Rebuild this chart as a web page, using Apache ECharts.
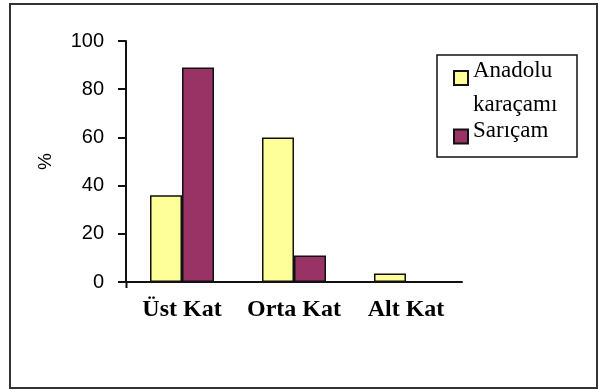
<!DOCTYPE html>
<html>
<head>
<meta charset="utf-8">
<script src="https://cdn.jsdelivr.net/npm/echarts@6/dist/echarts.min.js"></script>
<style>
  html, body { margin: 0; padding: 0; background: #fff; }
  #chart { width: 599px; height: 390px; }
</style>
</head>
<body>
<div id="chart"></div>
<script>
// Canopy layers and share (%) of each pine species
const categories = ['Üst Kat', 'Orta Kat', 'Alt Kat'];
const seriesNames = ['Anadolu karaçamı', 'Sarıçam'];
const karacam = [36, 60, 3.5];
const saricam = [89, 11, 0];
const yTicks = [0, 20, 40, 60, 80, 100];

const chart = echarts.init(document.getElementById('chart'), null, { renderer: 'canvas' });

const axisColor = '#111';
const sansFont = '"Liberation Sans", Arial, sans-serif';
const serifFont = '"Liberation Serif", "Times New Roman", serif';

// legend text: the species name sits level with its swatch, a wrapped name continues below
const legendRich = {
  t: { fontFamily: serifFont, fontSize: 23, color: '#000', lineHeight: 34 },
  top: { fontSize: 2, lineHeight: 19 },
  bot: { fontSize: 2, lineHeight: 12 }
};

chart.setOption({
  animation: false,
  backgroundColor: '#fff',
  grid: { left: 126, right: 137, top: 41, bottom: 108, containLabel: false },
  graphic: [
    {
      type: 'rect',
      shape: { x: 10, y: 4, width: 587, height: 384 },
      style: { fill: 'none', stroke: '#333', lineWidth: 2 },
      silent: true
    },
    {
      type: 'rect',
      shape: { x: 437, y: 55, width: 140, height: 102 },
      style: { fill: 'none', stroke: '#111', lineWidth: 1.5 },
      silent: true
    },
    {
      // short stub of the value axis below the category axis
      type: 'line',
      shape: { x1: 126.5, y1: 282, x2: 126.5, y2: 288 },
      style: { stroke: axisColor, lineWidth: 2 },
      silent: true
    }
  ],
  legend: {
    orient: 'vertical',
    left: 453,
    top: 43,
    padding: 0,
    itemWidth: 14,
    itemHeight: 14,
    itemGap: 3,
    icon: 'rect',
    selectedMode: false,
    textStyle: { fontFamily: serifFont, fontSize: 23, color: '#000', rich: legendRich },
    formatter: function (name) {
      if (name === seriesNames[0]) {
        return '{top| }\n{t|Anadolu}\n{t|karaçamı}';
      }
      return '{t|' + name + '}\n{bot| }';
    },
    data: seriesNames
  },
  xAxis: {
    type: 'category',
    data: categories,
    boundaryGap: true,
    axisLine: { show: true, lineStyle: { color: axisColor, width: 2 } },
    axisTick: { show: false },
    axisLabel: {
      interval: 0,
      hideOverlap: false,
      margin: 16,
      fontFamily: serifFont,
      fontWeight: 'bold',
      fontSize: 24,
      color: '#000'
    },
    splitLine: { show: false }
  },
  yAxis: {
    type: 'value',
    min: yTicks[0],
    max: yTicks[yTicks.length - 1],
    interval: yTicks[1] - yTicks[0],
    name: '%',
    nameLocation: 'middle',
    nameRotate: 90,
    nameGap: 71,
    nameTextStyle: { fontFamily: sansFont, fontSize: 19, color: '#000' },
    axisLine: { show: true, lineStyle: { color: axisColor, width: 2 } },
    axisTick: { show: true, length: 8, lineStyle: { color: axisColor, width: 2 } },
    axisLabel: {
      margin: 22,
      fontFamily: sansFont,
      fontSize: 20,
      color: '#000'
    },
    splitLine: { show: false }
  },
  series: [
    {
      name: seriesNames[0],
      type: 'bar',
      data: karacam,
      barWidth: 32,
      barGap: '0%',
      itemStyle: { color: '#FFFF99', borderColor: '#111', borderWidth: 1.5 }
    },
    {
      name: seriesNames[1],
      type: 'bar',
      data: saricam,
      barWidth: 32,
      barGap: '0%',
      itemStyle: { color: '#993366', borderColor: '#111', borderWidth: 1.5 }
    }
  ]
});
</script>
</body>
</html>
